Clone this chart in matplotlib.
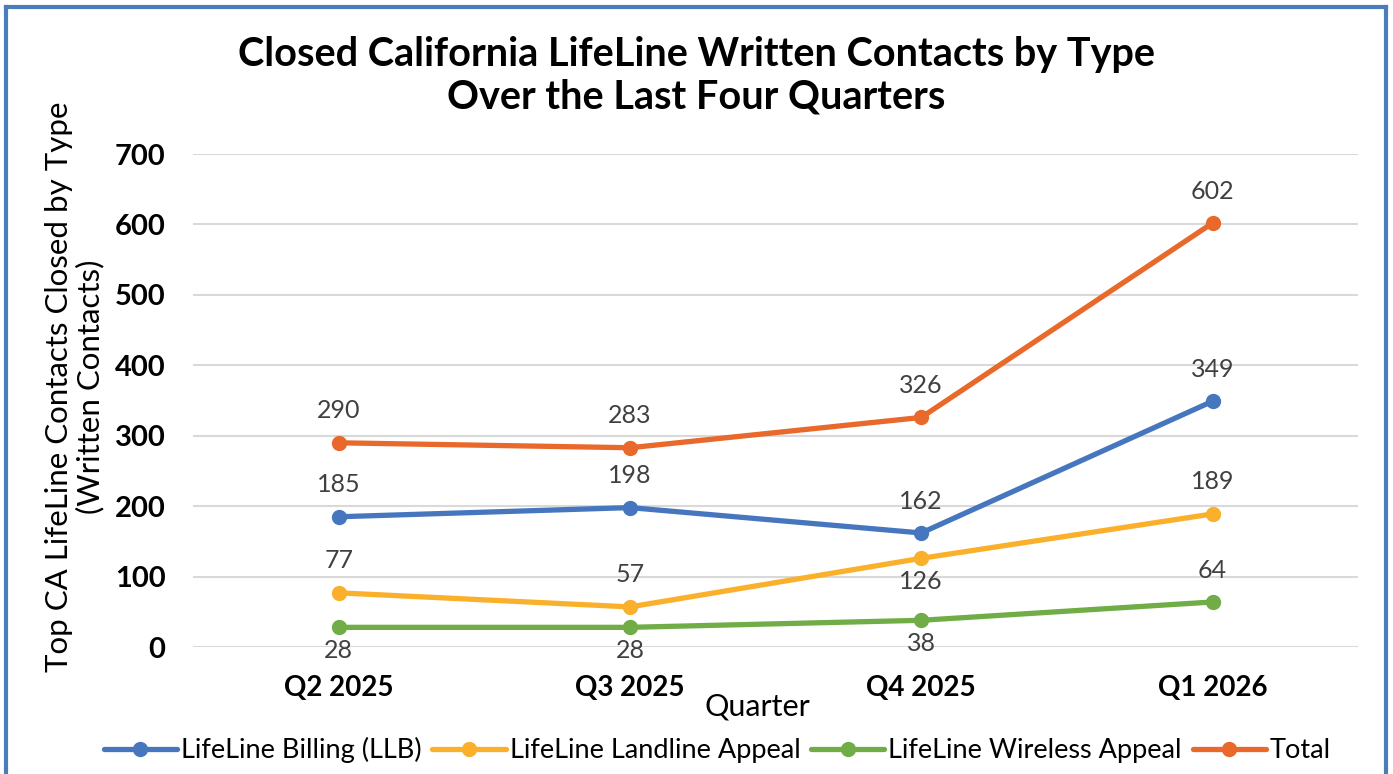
import matplotlib.pyplot as plt
from matplotlib.lines import Line2D

# ------------------------------------------------------------
# Data
# ------------------------------------------------------------

quarters = ["Q2 2025", "Q3 2025", "Q4 2025", "Q1 2026"]

billing = [185, 198, 162, 349]
landline = [77, 57, 126, 189]
wireless = [28, 28, 38, 64]
total = [290, 283, 326, 602]

series_names = ["LifeLine Billing (LLB)", "LifeLine Landline Appeal",
                "LifeLine Wireless Appeal", "Total"]
series_values = [billing, landline, wireless, total]
series_colors = ["#4677BE", "#FBB02B", "#70AD47", "#E8692B"]

# label placement: +1 above point, -1 below point
label_side = [
    [1, 1, 1, 1],
    [1, 1, -1, 1],
    [-1, -1, -1, 1],
    [1, 1, 1, 1],
]

# ------------------------------------------------------------
# Plot
# ------------------------------------------------------------

plt.rcParams["font.family"] = ["Lato", "DejaVu Sans"]

fig = plt.figure(figsize=(13.93, 7.74), dpi=100)
ax = fig.add_axes([0.1386, 0.164, 0.8364, 0.637])

x = list(range(len(quarters)))

for name, vals, col, sides in zip(series_names, series_values, series_colors, label_side):
    ax.plot(x, vals, color=col, lw=3.8, marker="o", markersize=10,
            label=name, solid_capstyle="round", zorder=3)
    for xi, v, s in zip(x, vals, sides):
        off = 23 if s > 0 else -17
        ax.annotate(str(v), (xi, v), xytext=(0, off), textcoords="offset points",
                    ha="center", va="center", fontsize=18, color="#404040")

ax.set_xlim(-0.5, 3.5)
ax.set_ylim(0, 700)
ax.set_yticks(range(0, 701, 100))
ax.set_xticks(x)
ax.set_xticklabels(quarters, fontsize=20, fontweight="bold")
for lab in ax.get_yticklabels():
    lab.set_fontsize(21)
    lab.set_fontweight("bold")
ax.tick_params(axis="x", length=0, pad=20)
ax.tick_params(axis="y", length=0, pad=20)

ax.grid(axis="y", color="#D9D9D9", lw=1.5)
ax.set_axisbelow(True)
for sp in ax.spines.values():
    sp.set_visible(False)

fig.text(757 / 1393, 1 - 707 / 774, "Quarter", ha="center", va="center", fontsize=22)
fig.text(75 / 1393, 1 - 387 / 774,
         "Top CA LifeLine Contacts Closed by Type\n(Written Contacts)",
         rotation=90, ha="center", va="center", multialignment="center",
         fontsize=22.5, linespacing=1.1)

fig.text(0.5, 1 - 76 / 774,
         "Closed California LifeLine Written Contacts by Type\nOver the Last Four Quarters",
         ha="center", va="center", fontsize=28.5, fontweight="bold", linespacing=1.2)

ax.legend(loc="center", bbox_to_anchor=(0.45, -0.209), ncol=4, frameon=False,
          fontsize=19.5, handlelength=2.7, handletextpad=0.15, columnspacing=0.4,
          borderaxespad=0)

# blue chart border
border = "#4A7EBB"
fig.add_artist(Line2D([0.004, 0.004], [0, 0.991], color=border, lw=3, transform=fig.transFigure))
fig.add_artist(Line2D([0.004, 0.995], [0.991, 0.991], color=border, lw=3, transform=fig.transFigure))
fig.add_artist(Line2D([0.995, 0.995], [0, 0.991], color=border, lw=3, transform=fig.transFigure))

fig.savefig("out.png", dpi=100)
